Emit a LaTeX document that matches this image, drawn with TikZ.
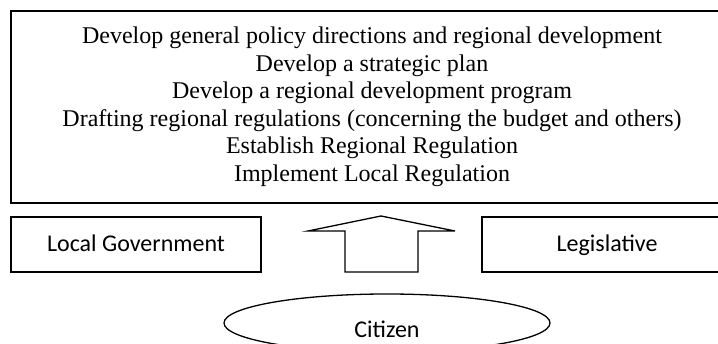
\documentclass[tikz,border=0pt]{standalone}
\usepackage{fontspec}
\setmainfont{Liberation Serif}
\newfontfamily\boxfont{Carlito}
\usetikzlibrary{positioning,shapes.geometric}

\begin{document}
\begin{tikzpicture}[x=1pt,y=-1pt]
		\tikzstyle{policy}=[draw,line width=1.3pt,minimum width=722pt,minimum height=192pt,inner sep=0pt,align=center,font=\fontsize{24}{27.5}\selectfont]
		\tikzstyle{actor}=[draw,line width=1.3pt,minimum width=250pt,minimum height=55pt,inner sep=0pt,text height=18pt,text depth=3pt,font=\boxfont\fontsize{24}{26}\selectfont]
		\tikzstyle{people}=[draw,ellipse,line width=1.3pt,minimum width=326pt,minimum height=58pt,inner sep=0pt]
		\tikzstyle{uparrow}=[draw,line width=1.3pt,fill=white]
		
		\useasboundingbox (0,0) rectangle (718,344);
		\clip (0,0) rectangle (718,344);
		
		\node[policy] (tasks) at (372,107) {Develop general policy directions and regional development\\
			Develop a strategic plan\\
			Develop a regional development program\\
			Drafting regional regulations (concerning the budget and others)\\
			Establish Regional Regulation\\
			Implement Local Regulation};
		\node[actor] (gov) at (136,244.5) {Local Government};
		\node[actor] (leg) at (607,244.5) {Legislative};
		\node[people] (citizen) at (387,323) {};
		\node[font=\boxfont\fontsize{24}{26}\selectfont] (citizenlabel) at (387,329) {Citizen};
		
		\draw[uparrow] (345,272) -- (345,231) -- (308,231) -- (381,216) -- (455,231) -- (418,231) -- (418,272) -- cycle;
		\end{tikzpicture}
\end{document}
